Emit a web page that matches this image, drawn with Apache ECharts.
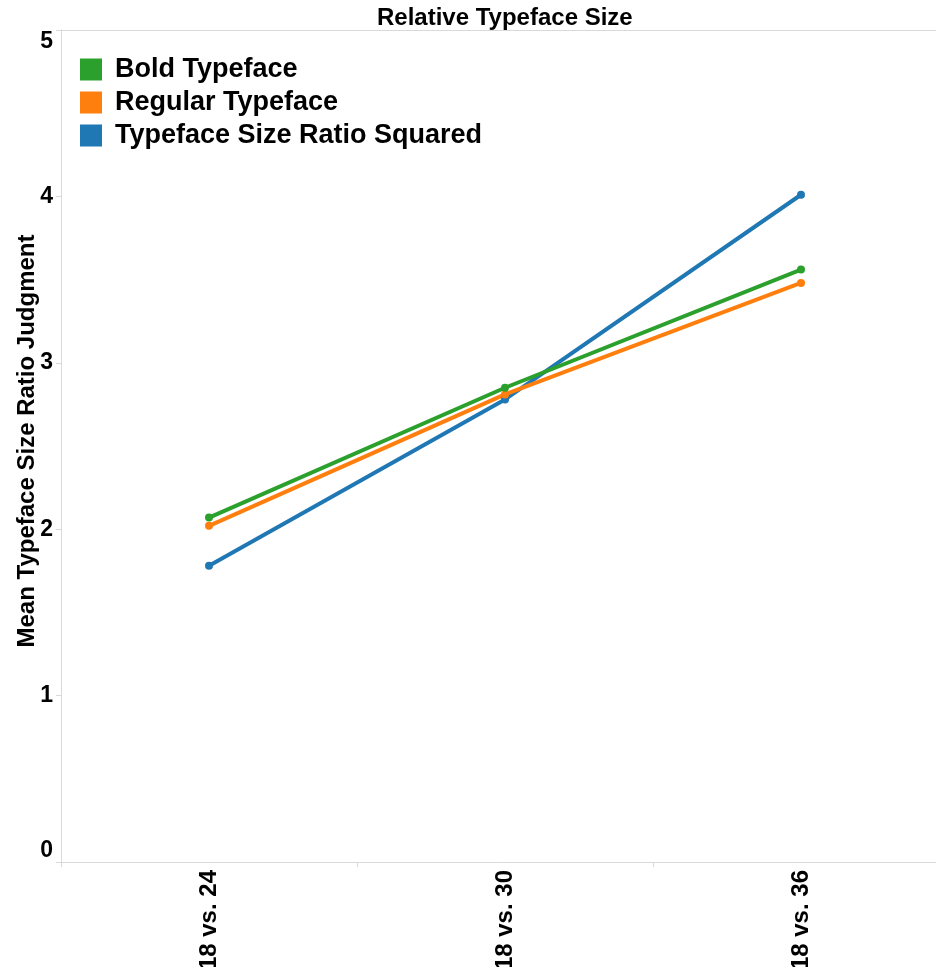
<!DOCTYPE html>
<html>
<head>
<meta charset="utf-8">
<script src="https://cdn.jsdelivr.net/npm/echarts@6/dist/echarts.min.js"></script>
<style>
  html, body { margin: 0; padding: 0; background: #fff; }
  #chart { width: 936px; height: 967px; }
</style>
</head>
<body>
<div id="chart"></div>
<script>
  var categories = ['18 vs. 24', '18 vs. 30', '18 vs. 36'];
  var boldTypeface = [2.07, 2.85, 3.56];
  var regularTypeface = [2.02, 2.81, 3.48];
  var ratioSquared = [1.78, 2.78, 4.01];
  var yTicks = [0, 1, 2, 3, 4, 5];

  var FONT = '"Liberation Sans", Arial, sans-serif';
  var chart = echarts.init(document.getElementById('chart'));

  function line(name, data, color) {
    return {
      name: name,
      type: 'line',
      data: data,
      symbol: 'circle',
      symbolSize: 8,
      lineStyle: { width: 4, color: color },
      itemStyle: { color: color },
      emphasis: { disabled: true }
    };
  }

  var option = {
    animation: false,
    title: {
      text: 'Relative Typeface Size',
      left: 372,
      top: 1,
      textStyle: { fontFamily: FONT, fontSize: 24, fontWeight: 'bold', color: '#000' }
    },
    legend: {
      orient: 'vertical',
      left: 75,
      top: 51,
      icon: 'rect',
      itemWidth: 22,
      itemHeight: 22,
      itemGap: 6,
      data: ['Bold Typeface', 'Regular Typeface', 'Typeface Size Ratio Squared'],
      textStyle: {
        fontFamily: FONT, fontSize: 27, fontWeight: 'bold', color: '#000',
        lineHeight: 22, padding: [0, 0, 0, 8]
      }
    },
    grid: {
      left: 61,
      top: 30,
      bottom: 105,
      width: 888,
      outerBoundsMode: 'none',
      containLabel: false
    },
    xAxis: [
      {
        type: 'category',
        data: categories,
        boundaryGap: true,
        axisLine: { lineStyle: { color: '#d9d9d9', width: 1 } },
        axisTick: { show: true, length: 5, lineStyle: { color: '#d9d9d9' } },
        axisLabel: {
          rotate: 90,
          margin: 8,
          fontFamily: FONT,
          fontSize: 24,
          fontWeight: 'bold',
          color: '#000'
        }
      },
      {
        type: 'category',
        position: 'top',
        data: categories,
        axisLine: { lineStyle: { color: '#d9d9d9', width: 1 } },
        axisTick: { show: false },
        axisLabel: { show: false }
      }
    ],
    yAxis: {
      type: 'value',
      min: yTicks[0],
      max: yTicks[yTicks.length - 1],
      interval: 1,
      name: 'Mean Typeface Size Ratio Judgment',
      nameLocation: 'middle',
      nameGap: 22,
      nameMoveOverlap: false,
      nameTextStyle: {
        fontFamily: FONT, fontSize: 24, fontWeight: 'bold', color: '#000',
        padding: [0, 0, 0, 10]
      },
      axisLine: { show: true, lineStyle: { color: '#d9d9d9', width: 1 } },
      axisTick: { show: true, length: 5, lineStyle: { color: '#d9d9d9' } },
      splitLine: { show: false },
      axisLabel: {
        margin: 8,
        fontFamily: FONT,
        fontSize: 23,
        fontWeight: 'bold',
        color: '#000',
        verticalAlignMaxLabel: 'top',
        verticalAlignMinLabel: 'bottom'
      }
    },
    series: [
      line('Typeface Size Ratio Squared', ratioSquared, '#1f77b4'),
      line('Regular Typeface', regularTypeface, '#ff7f0e'),
      line('Bold Typeface', boldTypeface, '#2ca02c')
    ]
  };

  chart.setOption(option);
</script>
</body>
</html>
